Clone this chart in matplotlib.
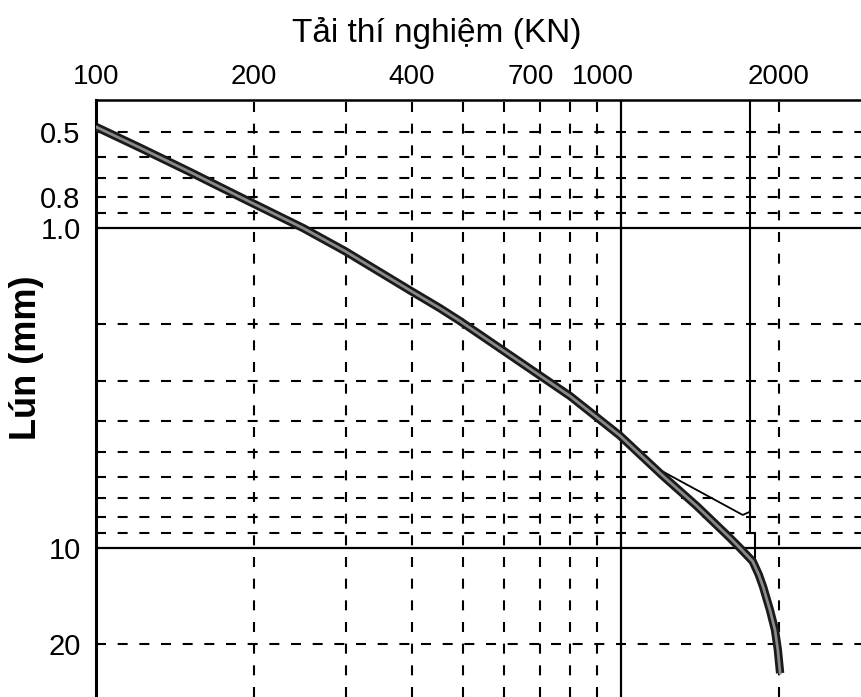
import matplotlib.pyplot as plt
from matplotlib.transforms import ScaledTranslation

plt.rcParams['font.family'] = ['Liberation Sans', 'DejaVu Sans']

# load-settlement curve
load_kn = [100, 121, 151, 194, 248, 298, 400, 452, 493, 642, 800, 995,
           1202, 1396, 1614, 1686, 1782, 1830, 1865, 1922, 1965, 1990, 2010]
settle_mm = [0.483, 0.560, 0.668, 0.820, 1.0, 1.18, 1.58, 1.78, 1.95, 2.62, 3.35, 4.45,
             5.95, 7.4, 9.3, 10.0, 11.0, 12.1, 13.2, 15.6, 18.0, 20.8, 24.6]

# thin tangent line and the limit-load vertical
tangent_kn = [1121, 1706, 1761]
tangent_mm = [5.42, 7.88, 7.7]
limit_kn = [1761, 1761, 1799, 1799]
limit_mm = [0.398, 8.98, 8.98, 10.9]

# grid
dash_x = [200, 300, 400, 500, 600, 700, 800, 900, 2000]
solid_x = [1000]
dash_y = [0.5, 0.6, 0.7, 0.8, 0.9, 2, 3, 4, 5, 6, 7, 8, 9, 20]
solid_y = [1, 10]

x_ticks = [100, 200, 400, 700, 1000, 2000]
x_labels = ['100', '200', '400', '700', '1000', '2000']
y_ticks = [0.5, 0.8, 1.0, 10, 20]
y_labels = ['0.5', '0.8', '1.0', '10', '20']

fig = plt.figure(figsize=(8.61, 6.97), dpi=100)
ax = fig.add_axes([96 / 861, 0, 1 - 96 / 861, 597 / 697])
ax.set_xscale('log')
ax.set_yscale('log')
ax.set_xlim(100, 2866)
ax.set_ylim(29.2, 0.398)

dash = (0, (4.8, 5.6))
for xv in dash_x:
    ax.axvline(xv, color='black', lw=1.5, linestyle=dash, zorder=1)
for xv in solid_x:
    ax.axvline(xv, color='black', lw=1.6, zorder=1)
for yv in dash_y:
    ax.axhline(yv, color='black', lw=1.5, linestyle=dash, zorder=1)
for yv in solid_y:
    ax.axhline(yv, color='black', lw=1.6, zorder=1)

ax.plot(limit_kn, limit_mm, color='black', lw=1.5, zorder=2)
ax.plot(tangent_kn, tangent_mm, color='black', lw=1.3, zorder=2)
ax.plot(load_kn, settle_mm, color='#1a1a1a', lw=6, solid_capstyle='butt',
        solid_joinstyle='round', zorder=3)
ax.plot(load_kn, settle_mm, color='#8a8a8a', lw=2, solid_joinstyle='round', zorder=4)

ax.spines['right'].set_visible(False)
ax.spines['bottom'].set_visible(False)
ax.spines['left'].set_linewidth(2.2)
ax.spines['top'].set_linewidth(1.8)

ax.minorticks_off()
ax.xaxis.tick_top()
ax.set_xticks(x_ticks)
ax.set_xticklabels(x_labels)
ax.set_yticks(y_ticks)
ax.set_yticklabels(y_labels)
ax.tick_params(axis='x', length=0, pad=7, labelsize=20)
ax.tick_params(axis='y', length=0, pad=11, labelsize=21)

# "700" and "1000" sit a little left of their lines in the original
for i, shift in [(3, -9), (4, -18)]:
    lab = ax.get_xticklabels()[i]
    lab.set_transform(lab.get_transform() + ScaledTranslation(shift / 100, 0, fig.dpi_scale_trans))

fig.text(437 / 861, 1 - 33 / 697, 'Tải thí nghiệm (KN)', ha='center', va='center', fontsize=24)
fig.text(27 / 861, 1 - 358 / 697, 'Lún (mm)', ha='center', va='center', rotation=90,
         fontsize=26, fontweight='bold')

fig.savefig('out.png', dpi=100)
